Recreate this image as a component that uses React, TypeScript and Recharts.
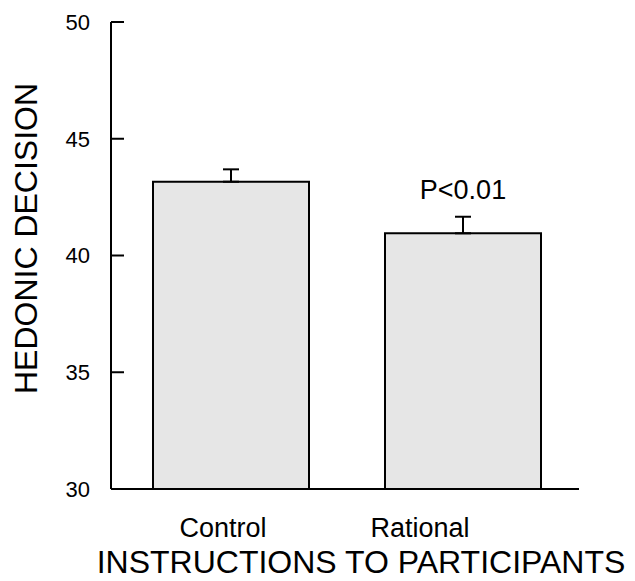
import { BarChart, Bar, XAxis, YAxis, ErrorBar, LabelList, Label } from 'recharts'

// hedonic decision score by instruction condition
const groups = ['Control', 'Rational']
const means = [43.16, 40.95]
const upperErr = [0.53, 0.71]
const notes = ['', 'P<0.01']
const yTicks = [30, 35, 40, 45, 50]

const data = groups.map((name, i) => ({
  name,
  value: means[i],
  err: [0, upperErr[i]],
  note: notes[i],
}))

const FONT = '"Liberation Sans", Arial, Helvetica, sans-serif'
// category labels sit a little left of their bars in the original
const TICK_SHIFT = [-8, -43]

function YTick({ x, y, payload }: any) {
  return (
    <g>
      <line x1={x} x2={x + 13} y1={y} y2={y} stroke="#000" strokeWidth={2} />
      <text x={x - 21} y={y} dy="0.36em" textAnchor="end" fontSize={22} fontFamily={FONT} fill="#000">
        {payload.value}
      </text>
    </g>
  )
}

function XTick({ x, y, payload, index }: any) {
  return (
    <text x={x + (TICK_SHIFT[index] ?? 0)} y={y + 48} textAnchor="middle" fontSize={27} fontFamily={FONT} fill="#000">
      {payload.value}
    </text>
  )
}

export default function App() {
  return (
    <div style={{ position: 'absolute', left: 0, top: 0, background: '#fff' }}>
      <BarChart width={635} height={581} data={data} margin={{ top: 22, right: 56, left: 0, bottom: 0 }}>
        <XAxis
          dataKey="name"
          height={92}
          padding={{ left: 4, right: 0 }}
          axisLine={{ stroke: '#000', strokeWidth: 2 }}
          tickLine={false}
          tickSize={0}
          tickMargin={0}
          tick={<XTick />}
        >
          <Label
            content={({ viewBox }: any) => (
              <text
                x={viewBox.x + viewBox.width / 2 + 16}
                y={viewBox.y + 84}
                textAnchor="middle"
                fontSize={32}
                fontFamily={FONT}
                fill="#000"
              >
                INSTRUCTIONS TO PARTICIPANTS
              </text>
            )}
          />
        </XAxis>
        <YAxis
          width={111}
          domain={[30, 50]}
          ticks={yTicks}
          interval={0}
          allowDataOverflow
          axisLine={{ stroke: '#000', strokeWidth: 2 }}
          tickLine={false}
          tickSize={0}
          tickMargin={0}
          tick={<YTick />}
        >
          <Label
            content={({ viewBox }: any) => {
              const cx = 37
              const cy = viewBox.y + viewBox.height / 2 - 17
              return (
                <text
                  x={cx}
                  y={cy}
                  transform={`rotate(-90 ${cx} ${cy})`}
                  textAnchor="middle"
                  fontSize={32}
                  fontFamily={FONT}
                  fill="#000"
                >
                  HEDONIC DECISION
                </text>
              )
            }}
          />
        </YAxis>
        <Bar dataKey="value" barSize={156} fill="#e6e6e6" stroke="#000" strokeWidth={2} isAnimationActive={false}>
          <ErrorBar dataKey="err" direction="y" width={8} stroke="#000" strokeWidth={2} isAnimationActive={false} />
          <LabelList dataKey="note" position="top" offset={34} fontSize={27} fontFamily={FONT} fill="#000" />
        </Bar>
      </BarChart>
    </div>
  )
}
